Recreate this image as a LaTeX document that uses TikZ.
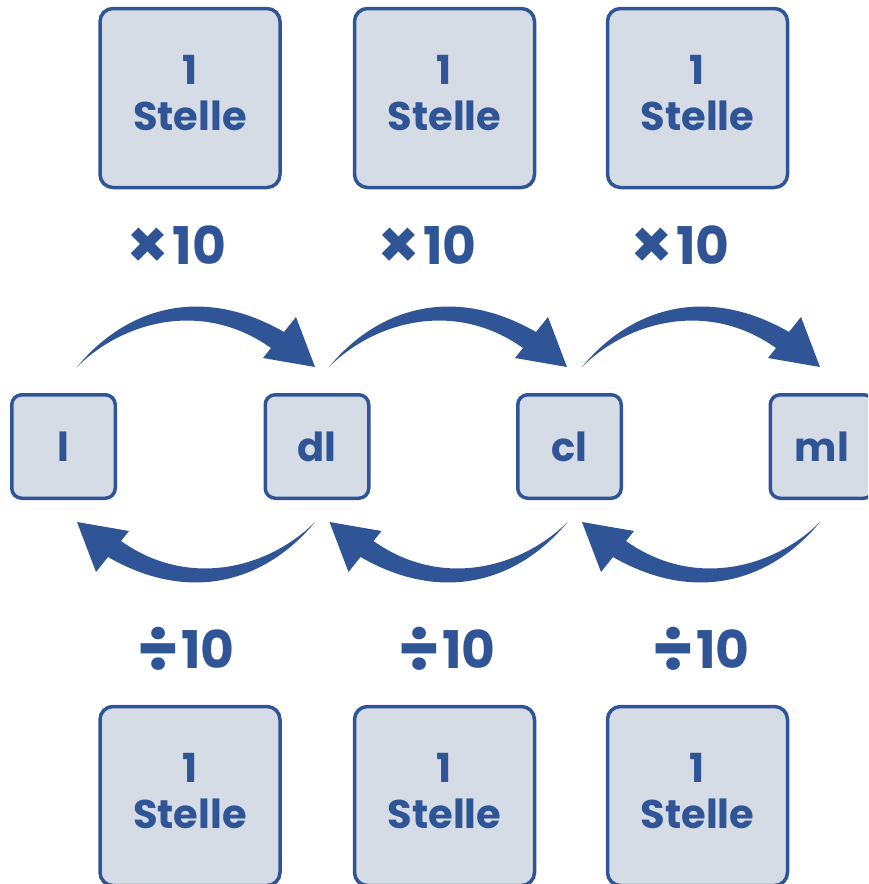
\documentclass[tikz,border=0pt]{standalone}
\usepackage{fontspec}
\usepackage{graphicx}
\setmainfont{Poppins}
\usetikzlibrary{calc}
\definecolor{dblue}{HTML}{2F5597}
\definecolor{lfill}{HTML}{D6DCE5}
\newcommand\opsym[1]{\raisebox{-4.5pt}{\scalebox{1.3}{#1}}\kern3pt}
\tikzset{
  bigbox/.style={draw=dblue, fill=lfill, line width=3.5pt, rounded corners=13pt, minimum width=180pt, minimum height=179pt, inner sep=0pt},
  unitbox/.style={draw=dblue, fill=lfill, line width=3.5pt, rounded corners=10pt, minimum width=103.5pt, minimum height=103.5pt, inner sep=0pt, font=\fontsize{40}{46}\selectfont\bfseries, text=dblue},
  boxtext/.style={font=\fontsize{40}{46}\selectfont\bfseries, text=dblue, inner sep=0pt, anchor=base},
  optext/.style={font=\fontsize{52}{60}\selectfont\bfseries, text=dblue, inner sep=0pt},
  pics/curvarrow/.style={code={
    \fill[dblue] (0,0) .. controls (45,-55) and (120,-85) .. (207,-35)
      -- (219,-50) -- (238,0) -- (186,-9) -- (194,-19)
      .. controls (125,-68) and (45,-45) .. (0,0) -- cycle;}}
}
\begin{document}
\begin{tikzpicture}[x=1pt,y=-1pt]
\useasboundingbox (0,0) rectangle (868,884);
\clip (0,0) rectangle (868,884);
% unit boxes
\node[unitbox] (l)  at (63.5,446.5) {l};
\node[unitbox] (dl) at (317,446.5) {dl};
\node[unitbox] (cl) at (569.5,446.5) {cl};
\node[unitbox] (ml) at (822,446.5) {ml};
% top and bottom boxes
\foreach \n/\x in {1/190,2/444.5,3/697.5}{
  \node[bigbox] (t\n) at (\x,98) {};
  \node[boxtext] (t\n a) at ($(t\n.north)+(0,78)$) {1};
  \node[boxtext] (t\n b) at ($(t\n.north)+(0,124)$) {Stelle};
  \node[bigbox] (b\n) at (\x,796) {};
  \node[boxtext] (b\n a) at ($(b\n.north)+(0,78)$) {1};
  \node[boxtext] (b\n b) at ($(b\n.north)+(0,124)$) {Stelle};
}
% operation labels
\node[optext] (m1) at (176.5,247) {\opsym{×}10};
\node[optext] (m2) at (427,247) {\opsym{×}10};
\node[optext] (m3) at (680,247) {\opsym{×}10};
\node[optext] (d1) at (186,650) {\opsym{÷}10};
\node[optext] (d2) at (447,650) {\opsym{÷}10};
\node[optext] (d3) at (701,650) {\opsym{÷}10};
% arrows
\path ($(l.center)+(13.5,-79.5)$) pic {curvarrow};
\path ($(dl.center)+(12,-79.5)$) pic {curvarrow};
\path ($(cl.center)+(12.5,-79.5)$) pic {curvarrow};
\path ($(dl.center)+(-2,75.5)$) pic[rotate=180] {curvarrow};
\path ($(cl.center)+(-2,75.5)$) pic[rotate=180] {curvarrow};
\path ($(ml.center)+(-2,75.5)$) pic[rotate=180] {curvarrow};
\end{tikzpicture}
\end{document}
